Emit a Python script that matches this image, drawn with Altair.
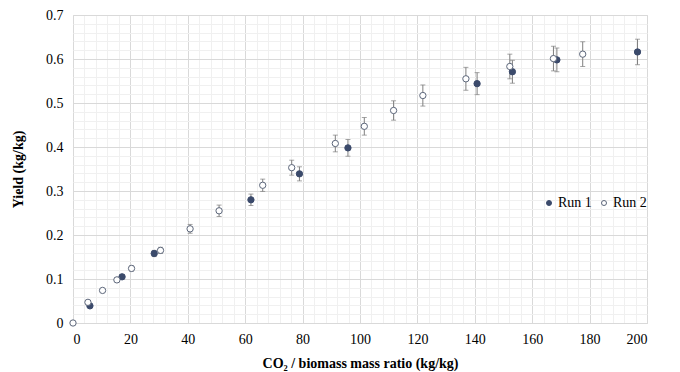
import altair as alt
import pandas as pd

# Run 1 (filled markers)
run1_x = [5.9, 17.1, 28.3, 62.0, 78.9, 95.8, 140.8, 153.1, 168.6, 196.7]
run1_y = [0.039, 0.105, 0.158, 0.280, 0.339, 0.398, 0.544, 0.571, 0.598, 0.616]
run1_err = [0.002, 0.005, 0.007, 0.013, 0.016, 0.019, 0.025, 0.026, 0.027, 0.029]

# Run 2 (open markers)
run2_x = [0, 5.2, 10.3, 15.3, 20.4, 30.5, 40.8, 50.9, 66.1, 76.2, 91.4, 101.5,
          111.7, 121.9, 136.9, 152.2, 167.4, 177.6]
run2_y = [0, 0.047, 0.074, 0.098, 0.124, 0.165, 0.214, 0.255, 0.313, 0.353, 0.408,
          0.447, 0.483, 0.517, 0.555, 0.583, 0.601, 0.611]
run2_err = [0, 0.002, 0.003, 0.004, 0.006, 0.007, 0.010, 0.013, 0.014, 0.017, 0.019,
            0.020, 0.022, 0.024, 0.026, 0.028, 0.028, 0.028]

series = ["Run 1", "Run 2"]
x_ticks = list(range(0, 201, 4))
y_ticks = [round(i * 0.02, 2) for i in range(36)]

rows = []
for s, xs, ys, es in [("Run 1", run1_x, run1_y, run1_err), ("Run 2", run2_x, run2_y, run2_err)]:
    for x, y, e in zip(xs, ys, es):
        rows.append({"series": s, "x": x, "y": y, "lo": y - e, "hi": y + e})
df = pd.DataFrame(rows)

FONT = "Liberation Serif"

xaxis = alt.Axis(
    title="CO₂ / biomass mass ratio (kg/kg)",
    values=x_ticks,
    labelExpr="datum.value % 20 === 0 ? datum.label : ''",
    gridColor={"condition": {"test": "datum.value % 20 === 0", "value": "#d9d9d9"}, "value": "#f0f0f0"},
    ticks=False, domainColor="#d9d9d9", labelFont=FONT, labelFontSize=14, labelColor="black",
    labelPadding=9, titleFont=FONT, titleFontSize=14, titleFontWeight="bold", titleColor="black",
    titlePadding=10, labelOverlap=False,
)
yaxis = alt.Axis(
    title="Yield (kg/kg)",
    values=y_ticks,
    labelExpr="round(datum.value * 100) % 10 === 0 ? format(datum.value, '.1~f') : ''",
    gridColor={"condition": {"test": "round(datum.value * 100) % 10 === 0", "value": "#d9d9d9"}, "value": "#f0f0f0"},
    ticks=False, domain=False, labelFont=FONT, labelFontSize=14, labelColor="black",
    labelPadding=10, titleFont=FONT, titleFontSize=14, titleFontWeight="bold", titleColor="black",
    titlePadding=20, labelOverlap=False,
)

xs = alt.Scale(domain=[0, 200], nice=False, zero=False)
ys = alt.Scale(domain=[0, 0.7], nice=False)

base = alt.Chart(df)

err = base.mark_rule(color="#7f7f7f", strokeWidth=1).encode(
    x=alt.X("x:Q", scale=xs, axis=xaxis),
    y=alt.Y("lo:Q", scale=ys, axis=yaxis),
    y2="hi:Q",
)
cap_lo = base.mark_tick(color="#7f7f7f", orient="horizontal", size=5, thickness=1).encode(
    x=alt.X("x:Q", scale=xs, axis=xaxis),
    y=alt.Y("lo:Q", scale=ys, axis=yaxis),
)
cap_hi = base.mark_tick(color="#7f7f7f", orient="horizontal", size=5, thickness=1).encode(
    x=alt.X("x:Q", scale=xs, axis=xaxis),
    y=alt.Y("hi:Q", scale=ys, axis=yaxis),
)

leg = alt.Legend(
    title=None, orient="none", legendX=469, legendY=181, direction="horizontal",
    labelFont=FONT, labelFontSize=14, labelColor="black", symbolSize=25,
    symbolType="circle", symbolStrokeWidth=1, columnPadding=5, labelOffset=2,
)

points = base.mark_point(shape="circle", size=40, strokeWidth=1, filled=False, opacity=1).encode(
    x=alt.X("x:Q", scale=xs, axis=xaxis),
    y=alt.Y("y:Q", scale=ys, axis=yaxis),
    fill=alt.Fill("series:N", scale=alt.Scale(domain=series, range=["#3b4a6b", "#ffffff"]), legend=leg),
    stroke=alt.Stroke("series:N", scale=alt.Scale(domain=series, range=["#3b4a6b", "#5c667a"]), legend=leg),
)

chart = alt.layer(err, cap_lo, cap_hi, points).properties(
    width=574, height=308,
    autosize=alt.AutoSizeParams(type="none"),
    padding={"left": 73, "top": 15, "right": 33, "bottom": 49},
).configure_view(stroke=None).configure(background="white")

chart.save("out.html", embed_options={"renderer": "svg", "actions": False})
